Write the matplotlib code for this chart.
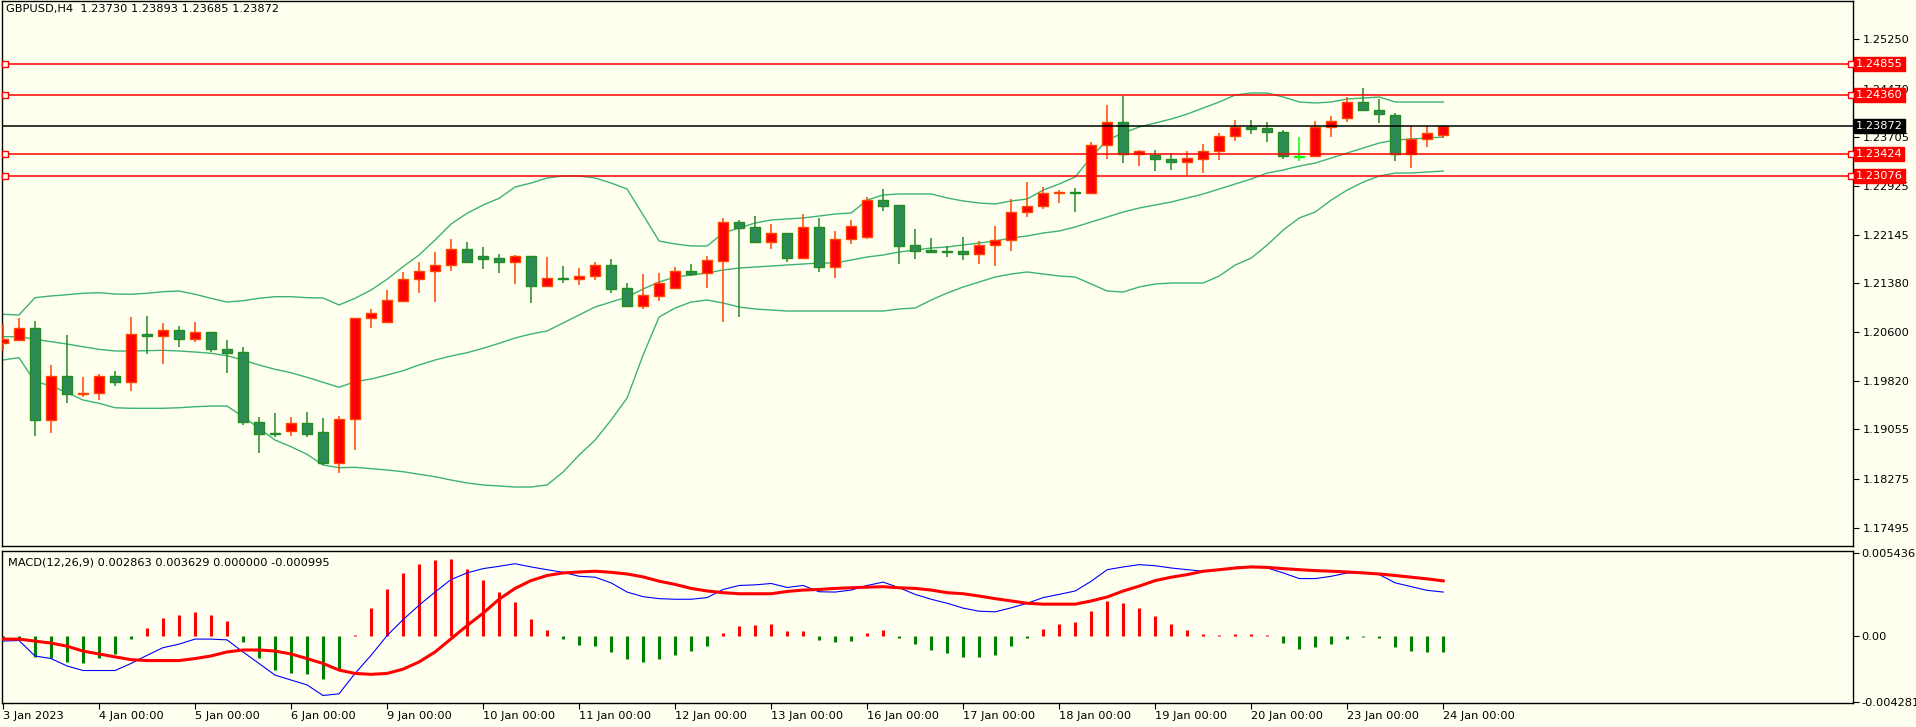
import matplotlib
matplotlib.use("Agg")
import matplotlib.pyplot as plt
import numpy as np

symbol_text = "GBPUSD,H4  1.23730 1.23893 1.23685 1.23872"
macd_text = "MACD(12,26,9) 0.002863 0.003629 0.000000 -0.000995"

opens = [1.20423,1.20471,1.20662,1.19200,1.19899,1.19613,1.19629,1.19899,1.19804,1.20566,
1.20535,1.20630,1.20496,1.20598,1.20338,1.20280,1.19169,1.18990,1.19026,1.19153,
1.19010,1.18527,1.19216,1.20820,1.20766,1.21100,1.21440,1.21567,1.21662,1.21916,
1.21805,1.21773,1.21719,1.21810,1.21338,1.21456,1.21449,1.21488,1.21662,1.21297,
1.21021,1.21180,1.21306,1.21567,1.21535,1.21736,1.22345,1.22271,1.22037,1.22171,
1.21783,1.22271,1.21640,1.22075,1.22107,1.22695,1.22615,1.21980,1.21910,1.21884,
1.21884,1.21847,1.21980,1.22059,1.22504,1.22599,1.22806,1.22822,1.22806,1.23568,
1.23934,1.23435,1.23419,1.23346,1.23298,1.23346,1.23473,1.23711,1.23864,1.23838,
1.23775,1.23394,1.23394,1.23854,1.23997,1.24251,1.24124,1.24045,1.23435,1.23673,
1.23730]
highs = [1.20730,1.20825,1.20778,1.20079,1.20555,1.19883,1.19936,1.19983,1.20841,1.20857,
1.20741,1.20698,1.20762,1.20598,1.20476,1.20365,1.19248,1.19312,1.19248,1.19332,
1.19237,1.19269,1.20820,1.20968,1.21270,1.21556,1.21715,1.21874,1.22075,1.22032,
1.21953,1.21842,1.21826,1.21810,1.21794,1.21651,1.21619,1.21715,1.21762,1.21381,
1.21524,1.21540,1.21635,1.21683,1.21810,1.22414,1.22382,1.22445,1.22323,1.22171,
1.22472,1.22409,1.22202,1.22382,1.22747,1.22874,1.22615,1.22239,1.22096,1.21974,
1.22117,1.22048,1.22286,1.22711,1.22985,1.22906,1.22854,1.22890,1.23621,1.24208,
1.24356,1.23494,1.23494,1.23441,1.23478,1.23584,1.23764,1.23970,1.23970,1.23938,
1.23811,1.23700,1.23954,1.24034,1.24331,1.24478,1.24304,1.24081,1.23875,1.23875,
1.23893]
lows = [1.20306,1.20471,1.18956,1.19003,1.19480,1.19575,1.19528,1.19750,1.19671,1.20258,
1.20099,1.20369,1.20444,1.20285,1.19956,1.19131,1.18686,1.18940,1.18951,1.18940,
1.18490,1.18368,1.18729,1.20671,1.20751,1.21084,1.21227,1.21079,1.21577,1.21710,
1.21608,1.21545,1.21370,1.21068,1.21322,1.21386,1.21354,1.21429,1.21227,1.21005,
1.20973,1.21100,1.21306,1.21497,1.21306,1.20766,1.20846,1.22021,1.21921,1.21715,
1.21783,1.21556,1.21465,1.22000,1.22085,1.22525,1.21688,1.21767,1.21858,1.21799,
1.21746,1.21683,1.21656,1.21894,1.22434,1.22561,1.22657,1.22514,1.22806,1.23355,
1.23292,1.23239,1.23165,1.23181,1.23096,1.23133,1.23340,1.23641,1.23752,1.23625,
1.23355,1.23324,1.23394,1.23705,1.23943,1.24124,1.23927,1.23324,1.23212,1.23546,
1.23685]
closes = [1.20487,1.20662,1.19200,1.19899,1.19613,1.19634,1.19899,1.19804,1.20566,1.20535,
1.20630,1.20496,1.20598,1.20338,1.20274,1.19169,1.18990,1.18978,1.19153,1.18988,
1.18527,1.19216,1.20820,1.20900,1.21106,1.21440,1.21572,1.21662,1.21916,1.21710,
1.21767,1.21719,1.21810,1.21338,1.21456,1.21449,1.21488,1.21662,1.21291,1.21021,
1.21186,1.21376,1.21567,1.21524,1.21742,1.22345,1.22259,1.22037,1.22171,1.21783,
1.22271,1.21640,1.22075,1.22282,1.22695,1.22609,1.21974,1.21894,1.21878,1.21878,
1.21847,1.21980,1.22059,1.22504,1.22599,1.22806,1.22822,1.22806,1.23568,1.23934,
1.23435,1.23473,1.23346,1.23298,1.23362,1.23473,1.23711,1.23864,1.23832,1.23775,
1.23394,1.23394,1.23854,1.23949,1.24251,1.24124,1.24061,1.23435,1.23673,1.23759,
1.23872]

bb_upper = [1.20884,1.20873,1.21148,1.21175,1.21195,1.21218,1.21227,1.21206,1.21202,1.21218,
1.21243,1.21254,1.21202,1.21138,1.21079,1.21100,1.21138,1.21164,1.21164,1.21148,
1.21143,1.21032,1.21138,1.21270,1.21440,1.21640,1.21826,1.22064,1.22318,1.22488,
1.22620,1.22726,1.22906,1.22969,1.23049,1.23081,1.23081,1.23049,1.22969,1.22874,
1.22461,1.22048,1.22001,1.21969,1.21969,1.22175,1.22255,1.22334,1.22382,1.22398,
1.22414,1.22445,1.22477,1.22493,1.22699,1.22779,1.22795,1.22795,1.22795,1.22731,
1.22684,1.22652,1.22636,1.22684,1.22715,1.22858,1.22954,1.23065,1.23382,1.23652,
1.23764,1.23859,1.23922,1.23986,1.24065,1.24161,1.24256,1.24367,1.24399,1.24399,
1.24335,1.24256,1.24240,1.24256,1.24304,1.24319,1.24335,1.24256,1.24256,1.24256,
1.24256]
bb_middle = [1.20528,1.20528,1.20487,1.20449,1.20412,1.20369,1.20328,1.20301,1.20301,1.20306,
1.20312,1.20301,1.20285,1.20265,1.20226,1.20158,1.20079,1.20010,1.19956,1.19883,
1.19804,1.19725,1.19813,1.19856,1.19920,1.19988,1.20079,1.20158,1.20222,1.20274,
1.20344,1.20423,1.20508,1.20571,1.20619,1.20746,1.20873,1.21000,1.21079,1.21159,
1.21286,1.21397,1.21476,1.21508,1.21540,1.21588,1.21619,1.21635,1.21651,1.21667,
1.21683,1.21699,1.21699,1.21746,1.21794,1.21826,1.21873,1.21905,1.21937,1.21953,
1.21985,1.22016,1.22048,1.22096,1.22128,1.22175,1.22207,1.22271,1.22350,1.22429,
1.22509,1.22572,1.22620,1.22668,1.22731,1.22795,1.22874,1.22954,1.23033,1.23128,
1.23176,1.23239,1.23287,1.23366,1.23446,1.23525,1.23605,1.23652,1.23668,1.23684,
1.23700]
bb_lower = [1.20158,1.20195,1.19813,1.19750,1.19639,1.19523,1.19470,1.19400,1.19391,1.19391,
1.19391,1.19400,1.19416,1.19427,1.19427,1.19258,1.19073,1.18887,1.18781,1.18660,
1.18490,1.18448,1.18454,1.18432,1.18411,1.18384,1.18343,1.18305,1.18252,1.18205,
1.18173,1.18157,1.18141,1.18141,1.18173,1.18379,1.18649,1.18887,1.19205,1.19555,
1.20238,1.20841,1.20984,1.21079,1.21111,1.21063,1.21000,1.20968,1.20952,1.20936,
1.20936,1.20936,1.20936,1.20936,1.20936,1.20936,1.20968,1.20984,1.21111,1.21222,
1.21318,1.21397,1.21476,1.21524,1.21556,1.21524,1.21492,1.21476,1.21365,1.21254,
1.21238,1.21318,1.21365,1.21381,1.21381,1.21381,1.21492,1.21667,1.21778,1.21985,
1.22223,1.22414,1.22509,1.22699,1.22858,1.22985,1.23081,1.23128,1.23128,1.23144,
1.23160]

macd_hist = [-18e-5,-21e-5,-136e-5,-142e-5,-168e-5,-174e-5,-142e-5,-118e-5,-21e-5,56e-5,
120e-5,139e-5,159e-5,139e-5,102e-5,-39e-5,-142e-5,-220e-5,-239e-5,-246e-5,
-278e-5,-213e-5,6e-5,181e-5,307e-5,411e-5,469e-5,495e-5,501e-5,437e-5,
366e-5,288e-5,223e-5,114e-5,43e-5,-19e-5,-58e-5,-65e-5,-103e-5,-149e-5,
-168e-5,-149e-5,-123e-5,-97e-5,-65e-5,24e-5,69e-5,76e-5,82e-5,37e-5,
37e-5,-26e-5,-39e-5,-32e-5,18e-5,43e-5,-13e-5,-52e-5,-90e-5,-110e-5,
-136e-5,-136e-5,-123e-5,-65e-5,-13e-5,50e-5,82e-5,95e-5,165e-5,230e-5,
217e-5,185e-5,133e-5,82e-5,43e-5,13e-5,6e-5,13e-5,13e-5,6e-5,
-45e-5,-84e-5,-71e-5,-52e-5,-19e-5,-5e-5,-13e-5,-71e-5,-97e-5,-103e-5,
-100e-5]
macd_main = [-32e-5,-28e-5,-129e-5,-146e-5,-194e-5,-224e-5,-224e-5,-224e-5,-178e-5,-125e-5,-75e-5,
-52e-5,-19e-5,-19e-5,-24e-5,-103e-5,-178e-5,-254e-5,-286e-5,-318e-5,-387e-5,
-376e-5,-243e-5,-125e-5,4e-5,108e-5,202e-5,288e-5,370e-5,413e-5,441e-5,
456e-5,473e-5,452e-5,434e-5,417e-5,391e-5,385e-5,348e-5,288e-5,258e-5,
245e-5,241e-5,241e-5,252e-5,305e-5,331e-5,335e-5,344e-5,318e-5,331e-5,
290e-5,288e-5,301e-5,331e-5,353e-5,316e-5,273e-5,241e-5,215e-5,183e-5,
163e-5,159e-5,185e-5,215e-5,252e-5,273e-5,295e-5,359e-5,434e-5,452e-5,
467e-5,460e-5,445e-5,434e-5,424e-5,434e-5,449e-5,456e-5,445e-5,413e-5,
376e-5,376e-5,391e-5,413e-5,413e-5,402e-5,348e-5,323e-5,299e-5,288e-5]
macd_signal = [-19e-5,-19e-5,-32e-5,-45e-5,-65e-5,-97e-5,-116e-5,-135e-5,-153e-5,-159e-5,-159e-5,
-159e-5,-146e-5,-129e-5,-103e-5,-90e-5,-90e-5,-97e-5,-116e-5,-146e-5,-178e-5,
-221e-5,-243e-5,-249e-5,-243e-5,-215e-5,-168e-5,-103e-5,-17e-5,69e-5,150e-5,
241e-5,312e-5,363e-5,396e-5,413e-5,419e-5,424e-5,417e-5,406e-5,387e-5,
359e-5,338e-5,312e-5,295e-5,284e-5,277e-5,277e-5,277e-5,292e-5,301e-5,
305e-5,312e-5,316e-5,320e-5,323e-5,316e-5,312e-5,301e-5,284e-5,277e-5,
262e-5,245e-5,230e-5,215e-5,209e-5,209e-5,209e-5,230e-5,256e-5,295e-5,
327e-5,363e-5,385e-5,402e-5,424e-5,434e-5,445e-5,452e-5,449e-5,441e-5,
434e-5,428e-5,424e-5,419e-5,413e-5,406e-5,396e-5,385e-5,374e-5,361e-5]

level_lines = [1.24855, 1.24360, 1.23424, 1.23076]
current_price = 1.23872
price_ticks = [1.25250, 1.24470, 1.23705, 1.22925, 1.22145, 1.21380, 1.20600,
               1.19820, 1.19055, 1.18275, 1.17495]
macd_ticks = [0.005436, 0.0, -0.004281]
macd_tick_labels = ["0.005436", "0.00", "-0.004281"]
date_labels = ["3 Jan 2023", "4 Jan 00:00", "5 Jan 00:00", "6 Jan 00:00", "9 Jan 00:00",
               "10 Jan 00:00", "11 Jan 00:00", "12 Jan 00:00", "13 Jan 00:00", "16 Jan 00:00",
               "17 Jan 00:00", "18 Jan 00:00", "19 Jan 00:00", "20 Jan 00:00", "23 Jan 00:00",
               "24 Jan 00:00"]

BG = "#fffff0"
W, H = 1916, 727
fig = plt.figure(figsize=(W/100, H/100), dpi=100, facecolor=BG)
plt.rcParams["font.family"] = "DejaVu Sans"
FS = 8.2

def box(x0, y0, x1, y1):
    return [x0/W, 1-y1/H, (x1-x0)/W, (y1-y0)/H]

ax = fig.add_axes(box(2, 1, 1853, 546), facecolor=BG)
ax2 = fig.add_axes(box(2, 551, 1853, 703), facecolor=BG)

n = len(closes)
x = np.arange(n)
xlim = (-0.06, 115.6)

bbc = "#3cb371"
for band in (bb_upper, bb_middle, bb_lower):
    ax.plot(x, band, color=bbc, lw=1.0, zorder=2)

o = np.array(opens); c = np.array(closes); h = np.array(highs); l = np.array(lows)
minh = 0.00016
for i in range(n):
    if c[i] > o[i]:
        fc, ec = "#ff0000", "#ff4500"
    elif c[i] < o[i]:
        fc, ec = "#2e8b57", "#228b22"
    else:
        fc, ec = "#00ff00", "#00ff00"
    ax.vlines(x[i], l[i], h[i], color=ec, lw=1.1, zorder=3)
    bottom = min(o[i], c[i])
    height = max(abs(c[i]-o[i]), minh)
    if abs(c[i]-o[i]) < minh:
        bottom = (o[i]+c[i])/2 - minh/2
    ax.bar(x[i], height, bottom=bottom, width=0.62, color=fc, edgecolor=ec,
           linewidth=1.0, zorder=4)

for lv in level_lines:
    ax.axhline(lv, color="#ff0000", lw=1.1, zorder=5)
    ax.plot([0.12, 115.45], [lv, lv], ls="none", marker="s", ms=4, mfc="white",
            mec="#ff0000", mew=1, zorder=6, clip_on=False)
ax.axhline(current_price, color="black", lw=1.1, zorder=5)

ax.set_xlim(*xlim)
ax.set_ylim(1.17204, 1.25860)
ax.set_xticks([])
ax.yaxis.tick_right()
ax.set_yticks(price_ticks)
ax.set_yticklabels([f"{t:.5f}" for t in price_ticks], fontsize=FS)
ax.tick_params(axis="y", length=4, width=0.8, pad=3, colors="black")
for s in ax.spines.values():
    s.set_color("black"); s.set_linewidth(1)

trans = ax.get_yaxis_transform()
for lv in level_lines:
    ax.text(1.0015, lv, f"{lv:.5f}", transform=trans, fontsize=FS, color="white",
            va="center", ha="left", zorder=10, clip_on=False,
            bbox=dict(boxstyle="square,pad=0.18", fc="#ff0000", ec="#ff0000"))
ax.text(1.0015, current_price, f"{current_price:.5f}", transform=trans, fontsize=FS,
        color="white", va="center", ha="left", zorder=10, clip_on=False,
        bbox=dict(boxstyle="square,pad=0.18", fc="black", ec="black"))

ax.text(0.002, 0.995, symbol_text, transform=ax.transAxes, fontsize=FS, va="top", ha="left")

hist = np.array(macd_hist)
cols = ["#ff0000" if v > 0 else "#008000" for v in hist]
ax2.vlines(x, 0, hist, colors=cols, lw=2.2, zorder=2)
ax2.plot(x, macd_main, color="#0000ff", lw=0.8, zorder=3)
ax2.plot(x, macd_signal, color="#ff0000", lw=2.2, zorder=4)
ax2.set_xlim(*xlim)
ax2.set_ylim(-0.00436, 0.00556)
ax2.yaxis.tick_right()
ax2.set_yticks(macd_ticks)
ax2.set_yticklabels(macd_tick_labels, fontsize=FS)
ax2.tick_params(axis="y", length=4, width=0.8, pad=2)
ax2.set_xticks(np.arange(0, n, 6))
ax2.set_xticklabels(date_labels, fontsize=FS, ha="left")
ax2.tick_params(axis="x", length=4, width=0.8, pad=2, direction="out")
for s in ax2.spines.values():
    s.set_color("black"); s.set_linewidth(1)
ax2.text(0.003, 0.96, macd_text, transform=ax2.transAxes, fontsize=FS, va="top", ha="left")

fig.savefig("out.png", dpi=100, facecolor=BG)
